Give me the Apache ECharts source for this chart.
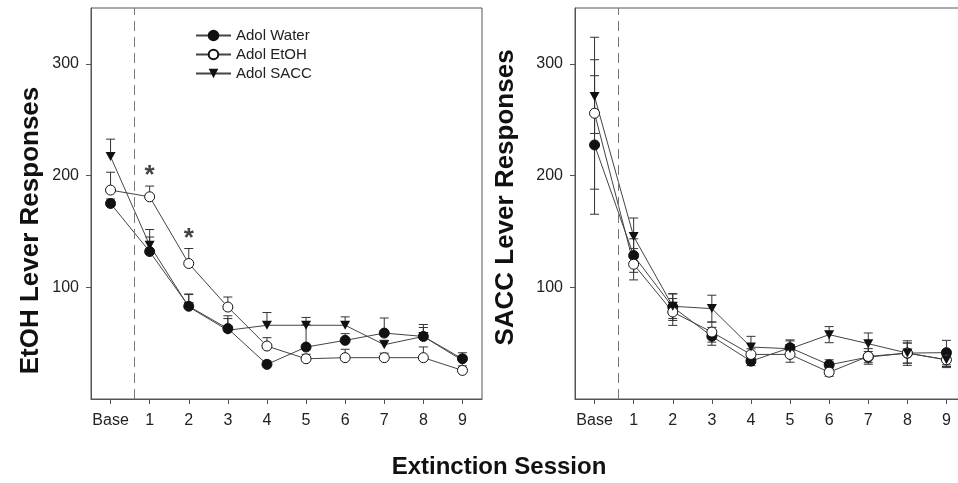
<!DOCTYPE html>
<html>
<head>
<meta charset="utf-8">
<script src="https://cdn.jsdelivr.net/npm/echarts@6/dist/echarts.min.js"></script>
<style>
html, body { margin: 0; padding: 0; background: #fff; }
#chart { width: 958px; height: 483px; }
</style>
</head>
<body>
<div id="chart"></div>
<script>
const sessions = ["Base", "1", "2", "3", "4", "5", "6", "7", "8", "9"]
const groupNames = ["Adol Water", "Adol EtOH", "Adol SACC"]
const yTicks = [100, 200, 300]
const dividerAt = 0.6

// EtOH lever responses (left panel), SEM drawn upward only
const etohWater    = [175, 132, 83, 63, 31, 46.5, 52.5, 59, 56, 36]
const etohWaterErr = [4, 13, 11, 9, 3, 20, 6, 13.5, 10.7, 5.4]
const etohEtoh     = [187, 181, 121.3, 82.3, 47.4, 36, 37, 37, 37, 25.6]
const etohEtohErr  = [16, 9.6, 13.4, 9, 7.5, 4, 7.5, 4, 9.6, 4]
const etohSacc     = [217, 137.7, 82.5, 61.5, 66, 66, 66, 48.6, 56, 34.5]
const etohSaccErr  = [15.6, 14, 11, 13, 11.4, 7, 7.5, 4, 8, 4]

// significance marks over the EtOH group
const sigSessions = [1, 2]
const sigLevels   = [200, 143]

// SACC lever responses (right panel), SEM both ways
const saccWater    = [227.4, 128.4, 82.3, 56.1, 33.9, 45.9, 30.6, 37.5, 41.1, 41.5]
const saccWaterErr = [62, 15, 12, 8, 4, 7, 4.5, 5, 9, 11]
const saccEtoh     = [255.8, 120.6, 77.9, 59.9, 39.9, 39.9, 24, 38.1, 41.1, 35.1]
const saccEtohErr  = [68, 14, 12, 9, 5, 7, 3.6, 7, 11, 7]
const saccSacc     = [270.7, 145.5, 83, 80.9, 46.5, 45, 57.6, 49.5, 41.1, 35.1]
const saccSaccErr  = [33, 16.5, 11, 12, 9.6, 7, 7.2, 9.6, 9, 6]

const FONT = '"Liberation Sans", Arial, sans-serif'
const INK = "#111"
const FRAME = "#555"

const markers = [
    { symbol: "circle", size: 10, itemStyle: { color: INK, borderColor: INK, borderWidth: 1 } },
    { symbol: "circle", size: 10, itemStyle: { color: "#fff", borderColor: INK, borderWidth: 1 } },
    { symbol: "path://M0,0 L10,0 L5,9 Z", size: [10, 9], itemStyle: { color: INK, borderWidth: 0 } },
]

function lineSeries(idx, k, values, extra) {
    return Object.assign({
        name: groupNames[k],
        type: "line",
        xAxisIndex: idx,
        yAxisIndex: idx,
        data: values.map((v, i) => [i, v]),
        symbol: markers[k].symbol,
        symbolSize: markers[k].size,
        itemStyle: markers[k].itemStyle,
        lineStyle: { color: "#444", width: 1 },
        z: 3,
    }, extra || {})
}

function errorBars(idx, values, errs, bothWays) {
    return {
        type: "custom",
        xAxisIndex: idx,
        yAxisIndex: idx,
        silent: true,
        z: 2,
        data: values.map((v, i) => [i, v, errs[i]]),
        renderItem(params, api) {
            const x = api.value(0), m = api.value(1), e = api.value(2)
            const top = api.coord([x, m + e])
            const bot = api.coord([x, bothWays ? m - e : m])
            const style = { stroke: "#333", lineWidth: 1 }
            const half = 4.5
            const kids = [
                { type: "line", shape: { x1: top[0], y1: top[1], x2: bot[0], y2: bot[1] }, style },
                { type: "line", shape: { x1: top[0] - half, y1: top[1], x2: top[0] + half, y2: top[1] }, style },
            ]
            if (bothWays) {
                kids.push({ type: "line", shape: { x1: bot[0] - half, y1: bot[1], x2: bot[0] + half, y2: bot[1] }, style })
            }
            return { type: "group", children: kids }
        },
    }
}

const divider = {
    silent: true,
    symbol: ["none", "none"],
    label: { show: false },
    lineStyle: { type: [10, 6], color: "#777", width: 1 },
    data: [{ xAxis: dividerAt }],
}

function xAxisFor(idx) {
    return {
        type: "value", gridIndex: idx, min: -0.5, max: 9.5,
        splitLine: { show: false },
        axisLine: { show: true, onZero: false, lineStyle: { color: FRAME } },
        axisTick: { show: true, length: 5, customValues: sessions.map((s, i) => i), lineStyle: { color: FRAME } },
        axisLabel: {
            customValues: sessions.map((s, i) => i),
            formatter: v => sessions[v],
            margin: 14, fontSize: 16, color: "#222", fontFamily: FONT,
        },
    }
}

// pad = [top, right, bottom, left] of the rotated title, used to slide it along the axis
function yAxisFor(idx, title, gap, pad) {
    return {
        type: "value", gridIndex: idx, min: 0, max: 350,
        splitLine: { show: false },
        axisLine: { show: true, onZero: false, lineStyle: { color: FRAME } },
        axisTick: { show: true, length: 5, customValues: yTicks, lineStyle: { color: FRAME } },
        axisLabel: { customValues: yTicks, margin: 12, fontSize: 16, color: "#222", fontFamily: FONT },
        name: title,
        nameLocation: "middle",
        nameRotate: 90,
        nameGap: gap,
        nameTextStyle: {
            fontSize: 26, fontWeight: "bold", color: INK, fontFamily: FONT,
            padding: pad,
        },
    }
}

const chart = echarts.init(document.getElementById("chart"), null, { renderer: "canvas" })

chart.setOption({
    animation: false,
    backgroundColor: "#fff",
    grid: [
        { left: 91, top: 8, width: 391, height: 391, show: true, borderColor: FRAME, borderWidth: 1, outerBoundsMode: "none" },
        { left: 575, top: 8, width: 391, height: 391, show: true, borderColor: FRAME, borderWidth: 1, outerBoundsMode: "none" },
    ],
    xAxis: [xAxisFor(0), xAxisFor(1)],
    yAxis: [
        yAxisFor(0, "EtOH Lever Responses", 47, [0, 54, 0, 0]),
        yAxisFor(1, "SACC Lever Responses", 56, [0, 0, 0, 12]),
    ],
    legend: {
        data: groupNames,
        orient: "vertical",
        left: 190,
        top: 21,
        itemWidth: 35,
        itemHeight: 12,
        itemGap: 0,
        textStyle: { fontSize: 15, lineHeight: 19, color: "#222", fontFamily: FONT },
    },
    graphic: [{
        type: "text",
        x: 499,
        y: 467,
        style: {
            text: "Extinction Session",
            font: 'bold 24px "Liberation Sans", Arial, sans-serif',
            fill: INK,
            align: "center",
            verticalAlign: "middle",
            textAlign: "center",
            textVerticalAlign: "middle",
        },
    }],
    series: [
        errorBars(0, etohWater, etohWaterErr, false),
        errorBars(0, etohEtoh, etohEtohErr, false),
        errorBars(0, etohSacc, etohSaccErr, false),
        lineSeries(0, 0, etohWater, { markLine: divider }),
        lineSeries(0, 1, etohEtoh),
        lineSeries(0, 2, etohSacc),
        {
            type: "scatter",
            xAxisIndex: 0,
            yAxisIndex: 0,
            silent: true,
            symbolSize: 1,
            itemStyle: { color: "rgba(0,0,0,0)" },
            data: sigSessions.map((s, i) => [s, sigLevels[i]]),
            label: {
                show: true, position: "inside", formatter: "*",
                fontSize: 26, fontWeight: "bold", color: INK, fontFamily: FONT,
            },
        },
        errorBars(1, saccWater, saccWaterErr, true),
        errorBars(1, saccEtoh, saccEtohErr, true),
        errorBars(1, saccSacc, saccSaccErr, true),
        lineSeries(1, 0, saccWater, { markLine: divider }),
        lineSeries(1, 1, saccEtoh),
        lineSeries(1, 2, saccSacc),
    ],
})
</script>
</body>
</html>
